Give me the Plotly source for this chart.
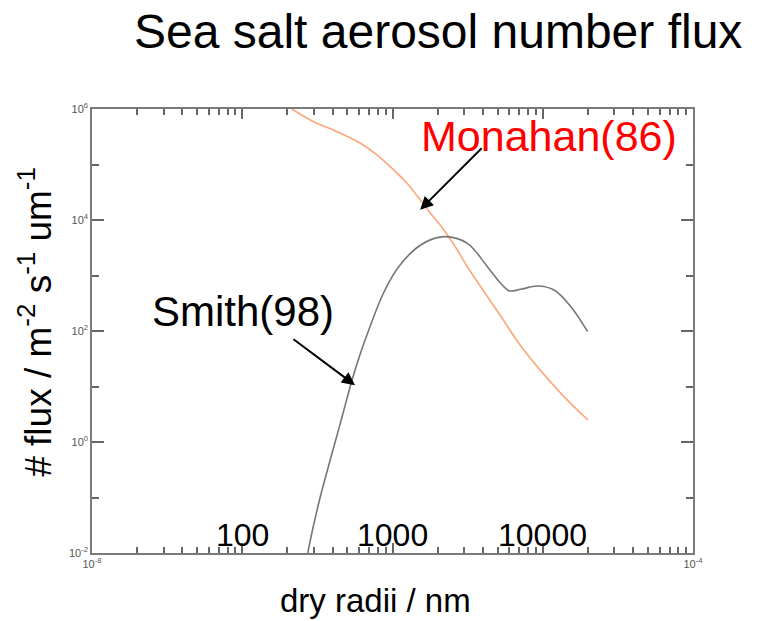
import plotly.graph_objects as go

# Dry radius (m) and number flux (m-2 s-1 um-1)
monahan_r = [2.14e-7, 2.99e-7, 4.28e-7, 6.12e-7, 7.91e-7, 1.02e-6, 1.25e-6, 1.50e-6,
             1.79e-6, 2.20e-6, 2.70e-6, 3.15e-6, 5.25e-6, 7.33e-6, 1.32e-5, 2.00e-5]
monahan_flux = [1.0e6, 5.9e5, 3.9e5, 2.41e5, 1.48e5, 7.96e4, 4.58e4, 2.46e4,
                1.32e4, 6.61e3, 2.88e3, 1.44e3, 186, 48.8, 7.53, 2.49]

smith_r = [2.70e-7, 2.77e-7, 3.31e-7, 3.96e-7, 4.62e-7, 5.38e-7, 6.12e-7, 6.95e-7, 8.71e-7,
           1.10e-6, 1.54e-6, 2.20e-6, 3.15e-6, 4.28e-6, 5.25e-6, 5.96e-6, 7.13e-6,
           9.23e-6, 1.19e-5, 1.54e-5, 1.99e-5]
smith_flux = [0.008, 0.0122, 0.104, 0.625, 2.86, 13.1, 39.6, 104, 484,
              1440, 3550, 5010, 3800, 1440, 723, 532, 564,
              647, 548, 274, 97.3]

y_tickvals = [1e-2, 1, 1e2, 1e4, 1e6]
y_ticktext = ["10<sup>-2</sup>", "10<sup>0</sup>", "10<sup>2</sup>", "10<sup>4</sup>", "10<sup>6</sup>"]
y_minorvals = [1e-1, 1e1, 1e3, 1e5]
x_majorvals = [1e-8, 1e-7, 1e-6, 1e-5, 1e-4]
x_ticktext = ["10<sup>-8</sup>", "", "", "", "10<sup>-4</sup>"]
size_labels = ["100", "1000", "10000"]
size_label_pos = [-7, -6, -5]

FONT = "Liberation Sans, Arial, sans-serif"
AX = "#7a7a7a"
TK = "#666666"

fig = go.Figure()
fig.add_trace(go.Scatter(x=monahan_r, y=monahan_flux, mode="lines",
                         line=dict(color="#FFA57A", width=1.6, shape="spline"), showlegend=False))
fig.add_trace(go.Scatter(x=smith_r, y=smith_flux, mode="lines",
                         line=dict(color="#767676", width=1.6, shape="spline"), showlegend=False))

fig.update_xaxes(type="log", range=[-8, -4], showgrid=False,
                 showline=True, linecolor=AX, linewidth=1.5, mirror="allticks",
                 ticks="inside", ticklen=10, tickcolor=TK, tickwidth=2,
                 tickvals=x_majorvals, ticktext=x_ticktext,
                 tickfont=dict(family=FONT, size=11, color="#555555"),
                 minor=dict(ticks="inside", ticklen=6, tickcolor=TK, tickwidth=1.5, dtick="D1"))
fig.update_yaxes(type="log", range=[-2, 6], showgrid=False,
                 showline=True, linecolor=AX, linewidth=1.5, mirror="allticks",
                 ticks="inside", ticklen=12, tickcolor=TK, tickwidth=2,
                 tickvals=y_tickvals, ticktext=y_ticktext,
                 tickfont=dict(family=FONT, size=11, color="#555555"),
                 minor=dict(ticks="inside", ticklen=7, tickcolor=TK, tickwidth=1.5, tickvals=y_minorvals))

ann = []
ann.append(dict(text="Sea salt aerosol number flux", xref="paper", yref="paper", x=0.576, y=1.175,
                showarrow=False, font=dict(family=FONT, size=48, color="black"),
                xanchor="center", yanchor="middle"))
ann.append(dict(text="Monahan(86)", xref="paper", yref="paper", x=0.761, y=0.939,
                showarrow=False, font=dict(family=FONT, size=43, color="#FF0000"),
                xanchor="center", yanchor="middle"))
ann.append(dict(text="Smith(98)", xref="paper", yref="paper", x=0.251, y=0.545,
                showarrow=False, font=dict(family=FONT, size=42, color="black"),
                xanchor="center", yanchor="middle"))
ann.append(dict(text="", xref="paper", yref="paper", x=0.546, y=0.773, ax=63, ay=-63,
                showarrow=True, arrowhead=2, arrowsize=1.3, arrowwidth=2, arrowcolor="black"))
ann.append(dict(text="", xref="paper", yref="paper", x=0.4376, y=0.378, ax=-63, ay=-47,
                showarrow=True, arrowhead=2, arrowsize=1.3, arrowwidth=2, arrowcolor="black"))
for t, p in zip(size_labels, size_label_pos):
    ann.append(dict(text=t, xref="x", yref="paper", x=p, y=0, yshift=-2, showarrow=False,
                    font=dict(family=FONT, size=32, color="black"),
                    xanchor="center", yanchor="bottom"))
ann.append(dict(text="dry radii / nm", xref="paper", yref="paper", x=0.471, y=-0.106,
                showarrow=False, font=dict(family=FONT, size=33, color="black"),
                xanchor="center", yanchor="middle"))
ann.append(dict(text="# flux / m<sup>-2</sup> s<sup>-1</sup> um<sup>-1</sup>", xref="paper", yref="paper",
                x=-0.093, y=0.521, textangle=-90, showarrow=False,
                font=dict(family=FONT, size=37, color="black"),
                xanchor="center", yanchor="middle"))

fig.update_layout(width=759, height=621, margin=dict(l=84, r=74, t=101, b=76),
                  paper_bgcolor="white", plot_bgcolor="white", annotations=ann,
                  font=dict(family=FONT))
fig.write_html("out.html")
